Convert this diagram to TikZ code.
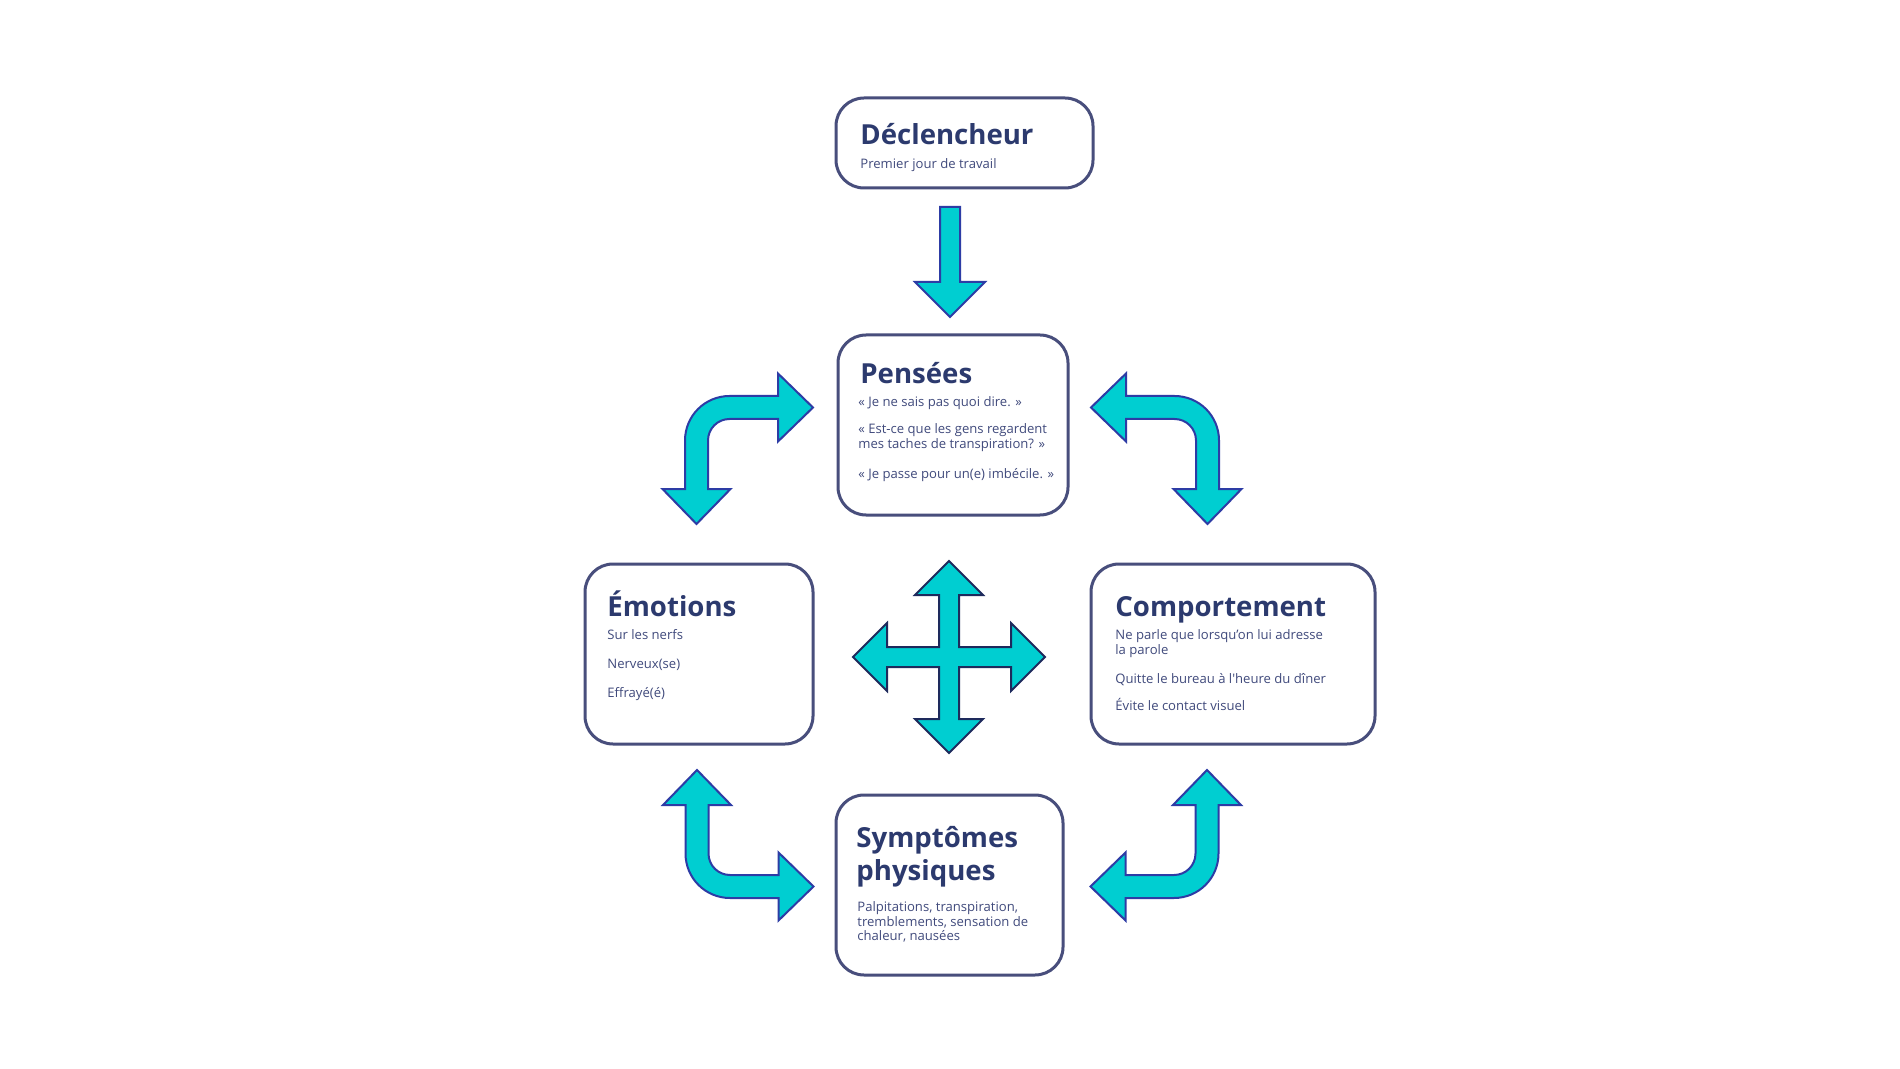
\documentclass[tikz,border=0pt]{standalone}
\usepackage{fontspec}
\setmainfont{Open Sans}[Ligatures=TeXOff]
\definecolor{boxc}{RGB}{72,78,124}
\definecolor{ttlc}{RGB}{44,58,110}
\definecolor{bdyc}{RGB}{64,74,124}
\definecolor{arrfill}{RGB}{0,206,209}
\definecolor{arrline}{RGB}{45,60,165}
\definecolor{crossline}{RGB}{30,42,92}
\newcommand{\bentarrow}{%
  \path[carrow] (81.5,-11.5) -- (81.5,-34) -- (116.5,0) -- (81.5,34) -- (81.5,11.5)
    -- (33,11.5) .. controls (21.1,11.5) and (11.5,21.1) .. (11.5,33)
    -- (11.5,81.5) -- (34,81.5) -- (0,116.5) -- (-34,81.5) -- (-11.5,81.5)
    -- (-11.5,33) .. controls (-11.5,8.4) and (8.4,-11.5) .. (33,-11.5) -- cycle;}
\begin{document}
\begin{tikzpicture}[x=0.5pt,y=-0.5pt,
  box/.style={draw=boxc, line width=1.5pt, rounded corners=14pt, fill=white, inner sep=0pt},
  ttl/.style={font=\bfseries\fontsize{13.8}{16}\selectfont, text=ttlc, anchor=base west, inner sep=0pt},
  bdy/.style={font=\fontsize{6.55}{8}\selectfont, text=bdyc, anchor=base west, inner sep=0pt},
  carrow/.style={fill=arrfill, draw=arrline, line width=1pt, line join=miter},
  xarrow/.style={fill=arrfill, draw=crossline, line width=1pt, line join=miter}]
\useasboundingbox (0,0) rectangle (1900,1069);
\fill[white] (0,0) rectangle (1900,1069);

% boxes
\node[box, minimum width=128.5pt, minimum height=45pt] (decl) at (964.5,143) {};
\node[box, minimum width=115pt, minimum height=90pt] (pens) at (953,425) {};
\node[box, minimum width=114pt, minimum height=90pt] (emo) at (699,654) {};
\node[box, minimum width=142pt, minimum height=90pt] (comp) at (1233,654) {};
\node[box, minimum width=113.5pt, minimum height=90pt] (symp) at (949.5,885) {};

% texts
\node[ttl] (declT) at (860,145) {Déclencheur};
\node[bdy] (declA) at (860,169) {Premier jour de travail};

\node[ttl] (pensT) at (860,384) {Pensées};
\node[bdy] (pensA) at (858,407) {« Je ne sais pas quoi dire. »};
\node[bdy] (pensB) at (858,434) {« Est-ce que les gens regardent};
\node[bdy] (pensC) at (858,449) {mes taches de transpiration? »};
\node[bdy] (pensD) at (858,478) {« Je passe pour un(e) imbécile. »};

\node[ttl] (emoT) at (607,616) {Émotions};
\node[bdy] (emoA) at (607,639) {Sur les nerfs};
\node[bdy] (emoB) at (607,668) {Nerveux(se)};
\node[bdy] (emoC) at (607,697) {Effrayé(é)};

\node[ttl] (compT) at (1115,616) {Comportement};
\node[bdy] (compA) at (1115,639) {Ne parle que lorsqu’on lui adresse};
\node[bdy] (compB) at (1115,654) {la parole};
\node[bdy] (compC) at (1115,683) {Quitte le bureau à l'heure du dîner};
\node[bdy] (compD) at (1115,710) {Évite le contact visuel};

\node[ttl] (sympT) at (856,847) {Symptômes};
\node[ttl] (sympU) at (856,880) {physiques};
\node[bdy] (sympA) at (857,911) {Palpitations, transpiration,};
\node[bdy] (sympB) at (857,926) {tremblements, sensation de};
\node[bdy] (sympC) at (857,940) {chaleur, nausées};

% straight down arrow
\path[carrow] (940,207) -- (960,207) -- (960,282) -- (985,282) -- (950,317)
  -- (915,282) -- (940,282) -- cycle;

% bent arrows
\begin{scope}[shift={(696.5,407.5)}]\bentarrow\end{scope}
\begin{scope}[shift={(1207.5,407.5)}, xscale=-1]\bentarrow\end{scope}
\begin{scope}[shift={(697,886.5)}, yscale=-1]\bentarrow\end{scope}
\begin{scope}[shift={(1207,886.5)}, xscale=-1, yscale=-1]\bentarrow\end{scope}

% four-way cross
\begin{scope}[shift={(949,657)}]
\path[xarrow] (-10,-62) -- (-34,-62) -- (0,-96) -- (34,-62) -- (10,-62)
  -- (10,-10) -- (62,-10) -- (62,-34) -- (96,0) -- (62,34) -- (62,10)
  -- (10,10) -- (10,62) -- (34,62) -- (0,96) -- (-34,62) -- (-10,62)
  -- (-10,10) -- (-62,10) -- (-62,34) -- (-96,0) -- (-62,-34) -- (-62,-10)
  -- (-10,-10) -- cycle;
\end{scope}
\end{tikzpicture}
\end{document}
